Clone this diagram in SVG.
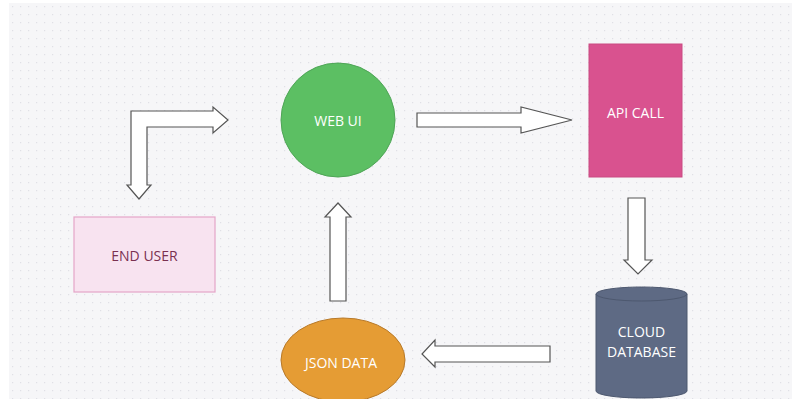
<svg xmlns="http://www.w3.org/2000/svg" width="792" height="399" viewBox="0 0 792 399">
<defs>
<pattern id="dots" x="9" y="3" width="8" height="8" patternUnits="userSpaceOnUse">
<rect width="8" height="8" fill="#f6f6f8"/>
<rect x="3" y="3" width="1.2" height="1.2" fill="#e0e0e6"/>
</pattern>
</defs>
<style>
.arrow{fill:#ffffff;stroke:#555555;stroke-width:1.2;stroke-linejoin:miter}
.lbl{font-family:"Open Sans","Liberation Sans",sans-serif;font-size:14px;text-anchor:middle;dominant-baseline:central}
.w{fill:#ffffff}
</style>
<rect width="792" height="399" fill="#ffffff"/>
<rect x="9" y="3" width="783" height="396" fill="url(#dots)"/>
<g id="connectors">
<path class="arrow" d="M131,111 H213 V107 L228,120 L213,133 V127 H147 V185 H151 L139,199 L127,185 H131 Z"/>
<path class="arrow" d="M417,113 H521 V107 L572,120 L521,133 V127 H417 Z"/>
<path class="arrow" d="M628,198 H645 V260 H652 L638,274 L624,260 H628 Z"/>
<path class="arrow" d="M550,346 V362 H435 V367 L422,354 L435,340 V346 Z"/>
<path class="arrow" d="M330,301 V217 H325 L338,203 L351,217 H346 V301 Z"/>
</g>
<g id="web-ui">
<circle cx="338" cy="120" r="57" fill="#5cbf63" stroke="#4fa557" stroke-width="1"/>
<text class="lbl w" x="338" y="120">WEB UI</text>
</g>
<g id="api-call">
<rect x="589" y="44" width="93" height="133" fill="#d9528f" stroke="#c94a82" stroke-width="1"/>
<text class="lbl w" x="635.5" y="112">API CALL</text>
</g>
<g id="end-user">
<rect x="74" y="217" width="141" height="75" fill="#f8e3f0" stroke="#e5a5c8" stroke-width="1.2"/>
<text class="lbl" x="144.5" y="255" fill="#7a3050">END USER</text>
</g>
<g id="cloud-database">
<path d="M596,294 A45.5,7 0 0 1 687,294 V391 A45.5,7 0 0 1 596,391 Z" fill="#5e6a84" stroke="#4d586f" stroke-width="1"/>
<path d="M596,294 A45.5,7 0 0 0 687,294" fill="none" stroke="#4d586f" stroke-width="1"/>
<text class="lbl w" x="641.5" y="331">CLOUD</text>
<text class="lbl w" x="641.5" y="351">DATABASE</text>
</g>
<g id="json-data">
<ellipse cx="343" cy="360" rx="62" ry="42" fill="#e59c34" stroke="#b87a2a" stroke-width="1"/>
<text class="lbl w" x="341" y="362">JSON DATA</text>
</g>
</svg>
